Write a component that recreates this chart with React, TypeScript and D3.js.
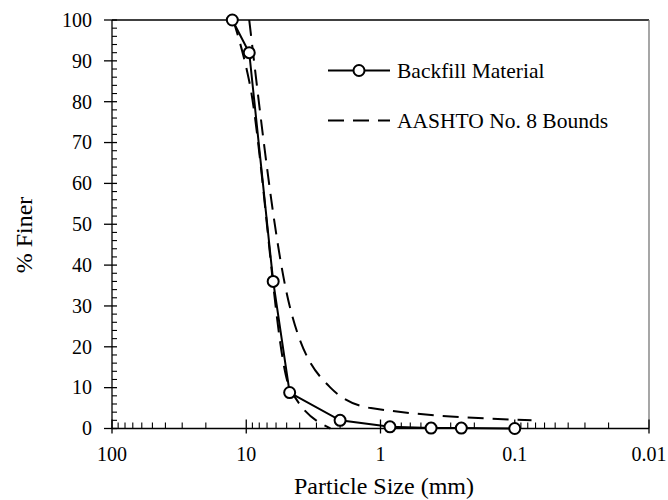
import React from "react";
import * as d3 from "d3";

const backfillSize = [12.7, 9.5, 6.3, 4.75, 2.0, 0.85, 0.42, 0.25, 0.1];
const backfillFiner = [100, 92, 36, 8.8, 2.0, 0.4, 0.1, 0.1, 0.0];
const upperSize = [9.5, 4.75, 2.36, 1.18, 0.075];
const upperFiner = [100, 30, 10, 5, 2];
const lowerSize = [12.5, 9.5, 4.75, 2.36];
const lowerFiner = [100, 85, 10, 0];
const xTickValues = [100, 10, 1, 0.1, 0.01];
const xTickLabels = ["100", "10", "1", "0.1", "0.01"];
const yTickValues = [0, 10, 20, 30, 40, 50, 60, 70, 80, 90, 100];
const seriesNames = ["Backfill Material", "AASHTO No. 8 Bounds"];
const xTitle = "Particle Size (mm)";
const yTitle = "% Finer";

const W = 668;
const H = 500;
const left = 112;
const right = 649;
const top = 20;
const bottom = 428.5;
const FONT = "'Liberation Serif', 'Times New Roman', serif";

export default function App() {
  const x = d3.scaleLog().domain([100, 0.01]).range([left, right]);
  const y = d3.scaleLinear().domain([0, 100]).range([bottom, top]);

  const straight = d3
    .line<[number, number]>()
    .x((d) => x(d[0]))
    .y((d) => y(d[1]));
  const smooth = d3
    .line<[number, number]>()
    .x((d) => x(d[0]))
    .y((d) => y(d[1]))
    .curve(d3.curveMonotoneX);

  const backfill: [number, number][] = backfillSize.map((s, i) => [s, backfillFiner[i]]);
  const upper: [number, number][] = upperSize.map((s, i) => [s, upperFiner[i]]);
  const lower: [number, number][] = lowerSize.map((s, i) => [s, lowerFiner[i]]);

  const xMinor: number[] = [];
  for (let dec = 0.01; dec < 100; dec *= 10) {
    for (let k = 2; k <= 9; k++) xMinor.push(+(dec * k).toPrecision(6));
  }
  const yMinor: number[] = [];
  for (let v = 0; v <= 100; v += 2) if (v % 10 !== 0) yMinor.push(v);

  const dash = "16,9";

  return (
    <svg
      width={W}
      height={H}
      style={{ position: "absolute", left: 0, top: 0, background: "#fff" }}
      fontFamily={FONT}
    >
      <rect x={0} y={0} width={W} height={H} fill="#fff" />
      {/* plot border top & right */}
      <line x1={left} x2={right} y1={top} y2={top} stroke="#000" strokeWidth={1.3} />
      <line x1={right} x2={right} y1={top} y2={bottom} stroke="#777" strokeWidth={1.3} />

      {/* series */}
      <path d={smooth(upper) || ""} fill="none" stroke="#000" strokeWidth={2} strokeDasharray={dash} />
      <path d={smooth(lower) || ""} fill="none" stroke="#000" strokeWidth={2} strokeDasharray={dash} />
      <path d={straight(backfill) || ""} fill="none" stroke="#000" strokeWidth={2} />

      {/* axes */}
      <line x1={left} x2={right} y1={bottom} y2={bottom} stroke="#000" strokeWidth={1.3} />
      <line x1={left} x2={left} y1={top} y2={bottom} stroke="#000" strokeWidth={1.3} />
      {xMinor.map((v, i) => (
        <line key={"xm" + i} x1={x(v)} x2={x(v)} y1={bottom - 6} y2={bottom} stroke="#000" strokeWidth={1.1} />
      ))}
      {xTickValues.map((v, i) => (
        <g key={"xt" + i}>
          <line x1={x(v)} x2={x(v)} y1={bottom - 9} y2={bottom + 5} stroke="#000" strokeWidth={1.3} />
          <text x={x(v)} y={461} textAnchor="middle" fontSize={20} fill="#000">
            {xTickLabels[i]}
          </text>
        </g>
      ))}
      {yMinor.map((v, i) => (
        <line key={"ym" + i} x1={left} x2={left + 5} y1={y(v)} y2={y(v)} stroke="#000" strokeWidth={1.1} />
      ))}
      {yTickValues.map((v, i) => (
        <g key={"yt" + i}>
          <line x1={left - 8} x2={left + 5} y1={y(v)} y2={y(v)} stroke="#000" strokeWidth={1.3} />
          <text x={92} y={y(v)} dy="0.34em" textAnchor="end" fontSize={20} fill="#000">
            {String(v)}
          </text>
        </g>
      ))}

      {/* markers */}
      {backfill.map((d, i) => (
        <circle key={"c" + i} cx={x(d[0])} cy={y(d[1])} r={5.5} fill="#fff" stroke="#000" strokeWidth={2} />
      ))}

      {/* legend */}
      <line x1={328} x2={390} y1={70.5} y2={70.5} stroke="#000" strokeWidth={2} />
      <circle cx={359} cy={70.5} r={5.5} fill="#fff" stroke="#000" strokeWidth={2} />
      <text x={397} y={78} fontSize={21.5} fill="#000">
        {seriesNames[0]}
      </text>
      <line x1={328} x2={390} y1={120.5} y2={120.5} stroke="#000" strokeWidth={2} strokeDasharray={dash} />
      <text x={397} y={128} fontSize={21.5} fill="#000">
        {seriesNames[1]}
      </text>

      {/* titles */}
      <text x={384} y={494} textAnchor="middle" fontSize={24} fill="#000">
        {xTitle}
      </text>
      <text
        transform={`translate(32,235) rotate(-90)`}
        textAnchor="middle"
        fontSize={24}
        fill="#000"
      >
        {yTitle}
      </text>
    </svg>
  );
}
